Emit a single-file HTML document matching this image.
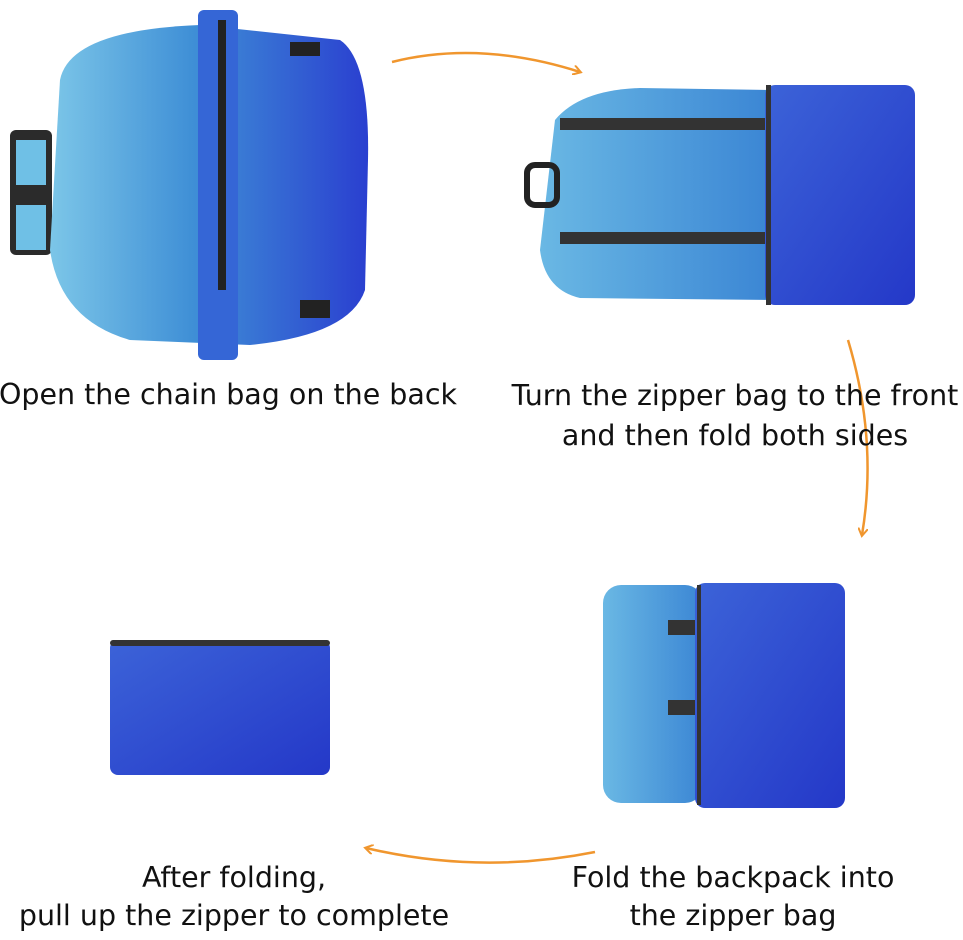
<!DOCTYPE html>
<html><head><meta charset="utf-8"><style>
html,body{margin:0;padding:0;background:#fff;width:963px;height:940px;overflow:hidden;position:relative;font-family:"DejaVu Sans","Liberation Sans",sans-serif;}
.t{position:absolute;font-size:28.5px;color:#111;text-align:center;white-space:nowrap;}
svg{position:absolute;left:0;top:0;}
</style></head><body>
<svg width="963" height="940" viewBox="0 0 963 940">
<defs>
<linearGradient id="g1" x1="0" x2="1" y1="0" y2="0"><stop offset="0" stop-color="#7cc6e8"/><stop offset="0.45" stop-color="#3f8fd6"/><stop offset="1" stop-color="#2a3fd0"/></linearGradient>
<linearGradient id="g2" x1="0" x2="1"><stop offset="0" stop-color="#6ab8e4"/><stop offset="1" stop-color="#3b86d4"/></linearGradient>
<linearGradient id="g3" x1="0" x2="1" y1="0" y2="1"><stop offset="0" stop-color="#3c63d8"/><stop offset="1" stop-color="#2438c8"/></linearGradient>
<marker id="ah" markerWidth="10" markerHeight="10" refX="7" refY="5" orient="auto" markerUnits="userSpaceOnUse"><path d="M0,0 L8,5 L0,10" fill="none" stroke="#f0962e" stroke-width="2"/></marker>
</defs>
<rect x="10" y="130" width="42" height="125" rx="6" fill="#2b2b2b"/>
<rect x="16" y="140" width="30" height="45" fill="#6fc0e6"/>
<rect x="16" y="205" width="30" height="45" fill="#6fc0e6"/>
<path d="M60,80 Q70,30 200,25 L340,40 Q370,60 368,160 L365,290 Q350,335 250,345 L130,340 Q60,320 50,250 Z" fill="url(#g1)"/>
<rect x="198" y="10" width="40" height="350" rx="6" fill="#3566d6"/>
<rect x="218" y="20" width="8" height="270" fill="#222"/>
<rect x="290" y="42" width="30" height="14" fill="#222"/>
<rect x="300" y="300" width="30" height="18" fill="#222"/>
<path d="M555,120 Q580,90 640,88 L770,90 L770,300 L580,298 Q545,290 540,250 Z" fill="url(#g2)"/>
<rect x="527" y="165" width="30" height="40" rx="8" fill="none" stroke="#222" stroke-width="6"/>
<rect x="560" y="118" width="210" height="12" fill="#333"/>
<rect x="560" y="232" width="210" height="12" fill="#333"/>
<rect x="765" y="85" width="150" height="220" rx="10" fill="url(#g3)"/>
<rect x="766" y="85" width="5" height="220" fill="#333"/>
<rect x="603" y="585" width="100" height="218" rx="18" fill="url(#g2)"/>
<rect x="668" y="620" width="30" height="15" fill="#333"/>
<rect x="668" y="700" width="30" height="15" fill="#333"/>
<rect x="695" y="583" width="150" height="225" rx="10" fill="url(#g3)"/>
<rect x="697" y="585" width="4" height="220" fill="#333"/>
<rect x="110" y="640" width="220" height="135" rx="8" fill="url(#g3)"/>
<rect x="110" y="640" width="220" height="6" rx="3" fill="#333"/>
<path d="M392,62 Q480,40 580,72" fill="none" stroke="#f0962e" stroke-width="2.5" marker-end="url(#ah)"/>
<path d="M848,340 Q878,440 862,535" fill="none" stroke="#f0962e" stroke-width="2.5" marker-end="url(#ah)"/>
<path d="M595,852 Q480,875 366,848" fill="none" stroke="#f0962e" stroke-width="2.5" marker-end="url(#ah)"/>
</svg>
<div class="t" style="left:-10px;top:378px;width:476px;">Open the chain bag on the back</div>
<div class="t" style="left:495px;top:379px;width:480px;">Turn the zipper bag to the front</div>
<div class="t" style="left:495px;top:419px;width:480px;">and then fold both sides</div>
<div class="t" style="left:533px;top:861px;width:400px;">Fold the backpack into</div>
<div class="t" style="left:533px;top:899px;width:400px;">the zipper bag</div>
<div class="t" style="left:-6px;top:861px;width:480px;">After folding,</div>
<div class="t" style="left:-6px;top:899px;width:480px;">pull up the zipper to complete</div>
</body></html>
